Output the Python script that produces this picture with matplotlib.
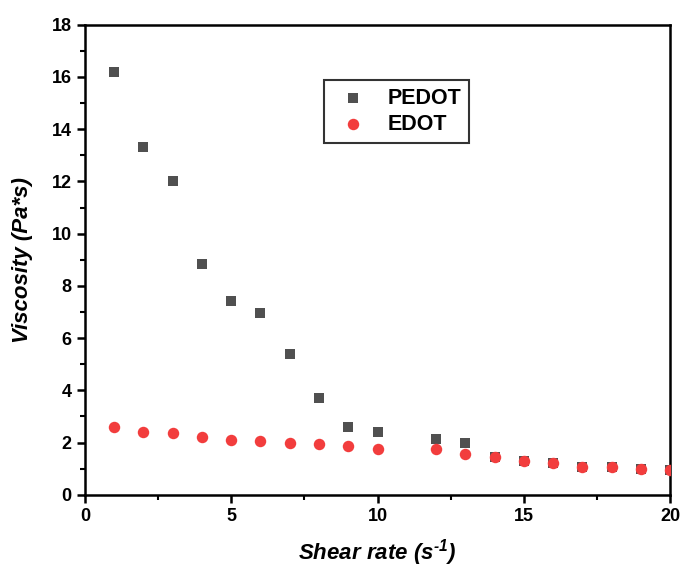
import matplotlib
matplotlib.use("Agg")
import matplotlib.pyplot as plt
from matplotlib.ticker import MultipleLocator

plt.rcParams['font.family'] = ['Liberation Sans', 'DejaVu Sans']
plt.rcParams['mathtext.fontset'] = 'custom'
plt.rcParams['mathtext.rm'] = 'Liberation Sans:bold:italic'
plt.rcParams['mathtext.it'] = 'Liberation Sans:bold:italic'
plt.rcParams['mathtext.bf'] = 'Liberation Sans:bold:italic'

shear = [1, 2, 3, 4, 5, 6, 7, 8, 9, 10, 12, 13, 14, 15, 16, 17, 18, 19, 20]
pedot = [16.2, 13.3, 12.0, 8.85, 7.42, 6.98, 5.4, 3.72, 2.58, 2.4, 2.15, 2.0,
         1.45, 1.3, 1.2, 1.05, 1.05, 0.97, 0.93]
edot = [2.6, 2.4, 2.37, 2.23, 2.1, 2.07, 2.0, 1.93, 1.87, 1.77, 1.75, 1.57,
        1.45, 1.3, 1.2, 1.07, 1.05, 0.97, 0.93]

fig = plt.figure(figsize=(6.84, 5.76), dpi=100)
ax = fig.add_axes([0.124, 0.141, 0.856, 0.816])

ax.scatter(shear, pedot, marker='s', s=50, color='#505050', label='PEDOT', zorder=3, linewidths=0)
ax.scatter(shear, edot, marker='o', s=68, color='#f23d3d', label='EDOT', zorder=4, linewidths=0)

ax.set_xlim(0, 20)
ax.set_ylim(0, 18)
ax.xaxis.set_major_locator(MultipleLocator(5))
ax.xaxis.set_minor_locator(MultipleLocator(2.5))
ax.yaxis.set_major_locator(MultipleLocator(2))
ax.yaxis.set_minor_locator(MultipleLocator(1))

for s in ax.spines.values():
    s.set_linewidth(1.8)
ax.tick_params(which='major', direction='out', length=6, width=1.8, labelsize=13,
               top=False, right=False)
ax.tick_params(which='minor', direction='out', length=3.5, width=1.5, top=False, right=False)
for lab in ax.get_xticklabels() + ax.get_yticklabels():
    lab.set_fontweight('bold')

ax.set_xlabel('Shear rate (s$^{\u2010 1}$)', fontsize=16, fontweight='bold', style='italic', labelpad=9)
ax.set_ylabel('Viscosity (Pa*s)', fontsize=16, fontweight='bold', style='italic', labelpad=13)

leg = ax.legend(loc='upper left', bbox_to_anchor=(0.39, 0.905), frameon=True, fancybox=False,
                edgecolor='black', prop={'weight': 'bold', 'size': 15.5}, handletextpad=0.6,
                borderpad=0.35, labelspacing=0.25)
leg.get_frame().set_linewidth(1.5)

fig.savefig('out.png', dpi=100)
